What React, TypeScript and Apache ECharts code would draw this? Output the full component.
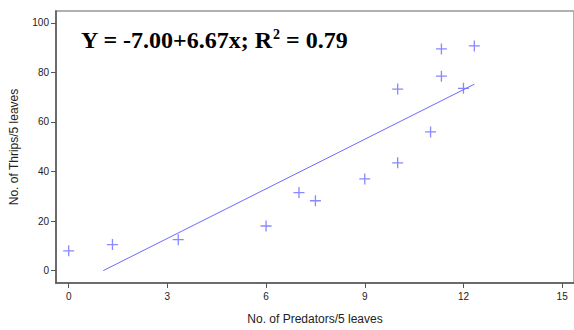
import React, { useEffect, useRef } from "react";
import * as echarts from "echarts";

// Observations: predators per 5 leaves vs thrips per 5 leaves
const predators = [0, 1.33, 3.33, 6, 7, 7.5, 9, 10, 10, 11, 11.33, 11.33, 12, 12.33];
const thrips = [8, 10.5, 12.5, 18, 31.5, 28.2, 37, 43.5, 73.3, 56, 78.5, 89.5, 73.6, 90.7];

// Fitted regression Y = a + b·x
const intercept = -7.0;
const slope = 6.67;
const fitRange = [1.05, 12.33];

const xTicks = [0, 3, 6, 9, 12, 15];
const yTicks = [0, 20, 40, 60, 80, 100];

const BLUE = "#6a6aff";

export default function App() {
  const ref = useRef<HTMLDivElement>(null);

  useEffect(() => {
    if (!ref.current) return;
    const chart = echarts.init(ref.current, null, { renderer: "svg" });
    const points = predators.map((x, i) => [x, thrips[i]]);
    const fit = fitRange.map((x) => [x, intercept + slope * x]);
    const axisFont = { fontFamily: "Liberation Sans, Arial, sans-serif" };

    chart.setOption({
      animation: false,
      backgroundColor: "#ffffff",
      grid: {
        left: 55,
        right: -3,
        top: 11,
        bottom: 44,
        show: true,
        borderColor: "#b0b0b0",
        borderWidth: 2,
      },
      xAxis: {
        type: "value",
        min: -0.386,
        max: 15.36,
        name: "No. of Predators/5 leaves",
        nameLocation: "middle",
        nameGap: 30,
        nameTextStyle: { ...axisFont, fontSize: 12, color: "#222" },
        splitLine: { show: false },
        axisLine: { onZero: false, lineStyle: { color: "#555", width: 1.5 } },
        axisTick: { customValues: xTicks, length: 5, lineStyle: { color: "#555" } },
        axisLabel: { customValues: xTicks, margin: 8, fontSize: 10, color: "#222", ...axisFont },
      },
      yAxis: {
        type: "value",
        min: -5,
        max: 104.8,
        name: "No. of Thrips/5 leaves",
        nameLocation: "middle",
        nameGap: 36,
        nameTextStyle: { ...axisFont, fontSize: 12, color: "#222" },
        splitLine: { show: false },
        axisLine: { onZero: false, lineStyle: { color: "#555", width: 1.5 } },
        axisTick: { customValues: yTicks, length: 5, lineStyle: { color: "#555" } },
        axisLabel: { customValues: yTicks, margin: 7, fontSize: 10, color: "#222", ...axisFont },
      },
      graphic: [
        {
          type: "text",
          left: 81,
          top: 27,
          style: {
            text: "{t|Y = -7.00+6.67x; R}{s|2}{t| = 0.79}",
            rich: {
              t: {
                fontFamily: "Liberation Serif, Times New Roman, serif",
                fontWeight: "bold",
                fontSize: 24,
                fill: "#000",
              },
              s: {
                fontFamily: "Liberation Serif, Times New Roman, serif",
                fontWeight: "bold",
                fontSize: 14,
                fill: "#000",
                verticalAlign: "top",
                padding: [0, 0, 11, 0],
              },
            },
          },
        },
      ],
      series: [
        {
          type: "line",
          data: fit,
          symbol: "none",
          lineStyle: { color: BLUE, width: 1 },
          z: 2,
        },
        {
          type: "scatter",
          data: points,
          clip: false,
          symbol: "path://M5,0L5,10M0,5L10,5",
          symbolSize: 11,
          itemStyle: { color: "none", borderColor: BLUE, borderWidth: 1.3 },
          z: 3,
        },
      ],
    });
    return () => chart.dispose();
  }, []);

  return (
    <div
      ref={ref}
      style={{ position: "fixed", left: 0, top: 0, width: 574, height: 330 }}
    />
  );
}
